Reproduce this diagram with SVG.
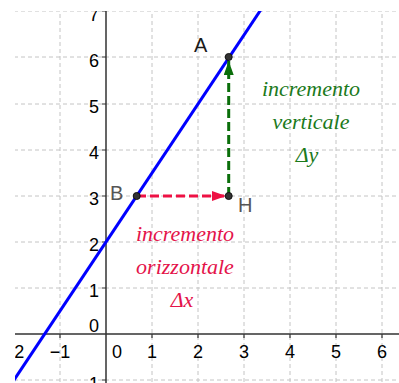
<svg xmlns="http://www.w3.org/2000/svg" width="399" height="383" viewBox="0 0 399 383">
  <style>
    .grid { stroke: #c4c4c4; stroke-width: 1; stroke-dasharray: 4 3; fill: none; }
    .axis { stroke: #333; stroke-width: 1.5; fill: none; }
    .tick { stroke: #333; stroke-width: 1.2; }
    .num { font-family: "Liberation Sans", Arial, sans-serif; font-size: 18px; fill: #000; }
    .pt { fill: #333; stroke: #111; stroke-width: 1; }
    .plab { font-family: "Liberation Sans", Arial, sans-serif; font-size: 20px; }
    .note { font-family: "Liberation Serif", "Times New Roman", serif; font-style: italic; font-size: 22px; text-anchor: middle; }
  </style>
  <defs>
    <clipPath id="view"><rect x="15" y="11" width="384" height="372"/></clipPath>
    <marker id="arrRed" markerUnits="userSpaceOnUse" markerWidth="14" markerHeight="10" viewBox="0 0 14 10" refX="14" refY="5" orient="auto">
      <path d="M0,0 L14,5 L0,10 z" fill="#ee1144"/>
    </marker>
    <marker id="arrGreen" markerUnits="userSpaceOnUse" markerWidth="14" markerHeight="10" viewBox="0 0 14 10" refX="14" refY="5" orient="auto">
      <path d="M0,0 L14,5 L0,10 z" fill="#0a6e0a"/>
    </marker>
  </defs>
  <rect width="399" height="383" fill="#fff"/>
  <g clip-path="url(#view)">
    <g id="grid">
      <path class="grid" d="M14,0 V383 M60,0 V383 M152,0 V383 M198,0 V383 M244,0 V383 M290,0 V383 M336,0 V383 M382,0 V383"/>
      <path class="grid" d="M0,11 H399 M0,57 H399 M0,104 H399 M0,150 H399 M0,196 H399 M0,242 H399 M0,288 H399 M0,380 H399"/>
    </g>
    <g id="axes">
      <path class="axis" d="M0,334 H399 M106,0 V383"/>
      <path class="tick" d="M14,334 v4 M60,334 v4 M152,334 v4 M198,334 v4 M244,334 v4 M290,334 v4 M336,334 v4 M382,334 v4 M106,11 h-4 M106,57 h-4 M106,104 h-4 M106,150 h-4 M106,196 h-4 M106,242 h-4 M106,288 h-4 M106,380 h-4"/>
    </g>
    <g id="axis-labels">
      <g class="num" text-anchor="middle">
        <text x="14" y="358">−2</text>
        <text x="60" y="358">−1</text>
        <text x="117" y="358">0</text>
        <text x="152" y="358">1</text>
        <text x="198" y="358">2</text>
        <text x="244" y="358">3</text>
        <text x="290" y="358">4</text>
        <text x="336" y="358">5</text>
        <text x="382" y="358">6</text>
      </g>
      <g class="num" text-anchor="end">
        <text x="99" y="21">7</text>
        <text x="99" y="67">6</text>
        <text x="99" y="113">5</text>
        <text x="99" y="159">4</text>
        <text x="99" y="205">3</text>
        <text x="99" y="251">2</text>
        <text x="99" y="297">1</text>
        <text x="99" y="332">0</text>
        <text x="99" y="390">−1</text>
      </g>
    </g>
    <g id="connectors">
      <line id="line-f" x1="-9" y1="414.5" x2="270" y2="-4" stroke="#0000ff" stroke-width="3"/>
      <path id="vec-BH" d="M137,196 H226" stroke="#ee1144" stroke-width="3" stroke-dasharray="9 4" fill="none" marker-end="url(#arrRed)"/>
      <path id="vec-HA" d="M228.7,196 V61" stroke="#0a6e0a" stroke-width="3" stroke-dasharray="9 4" fill="none" marker-end="url(#arrGreen)"/>
    </g>
    <g id="node-A">
      <circle class="pt" cx="228.7" cy="57" r="3.5"/>
      <text class="plab" x="194" y="52" fill="#1a1a1a">A</text>
    </g>
    <g id="node-B">
      <circle class="pt" cx="136.7" cy="196" r="3.5"/>
      <text class="plab" x="110" y="199.5" fill="#555">B</text>
    </g>
    <g id="node-H">
      <circle class="pt" cx="228.7" cy="196" r="3.5"/>
      <text class="plab" x="238" y="212" fill="#555">H</text>
    </g>
    <g id="label-horizontal" class="note" fill="#e4134a">
      <text x="185" y="241">incremento</text>
      <text x="185" y="274">orizzontale</text>
      <text x="182" y="307">Δx</text>
    </g>
    <g id="label-vertical" class="note" fill="#1b7a1b">
      <text x="311" y="96">incremento</text>
      <text x="311" y="129">verticale</text>
      <text x="307" y="162">Δy</text>
    </g>
  </g>
</svg>
